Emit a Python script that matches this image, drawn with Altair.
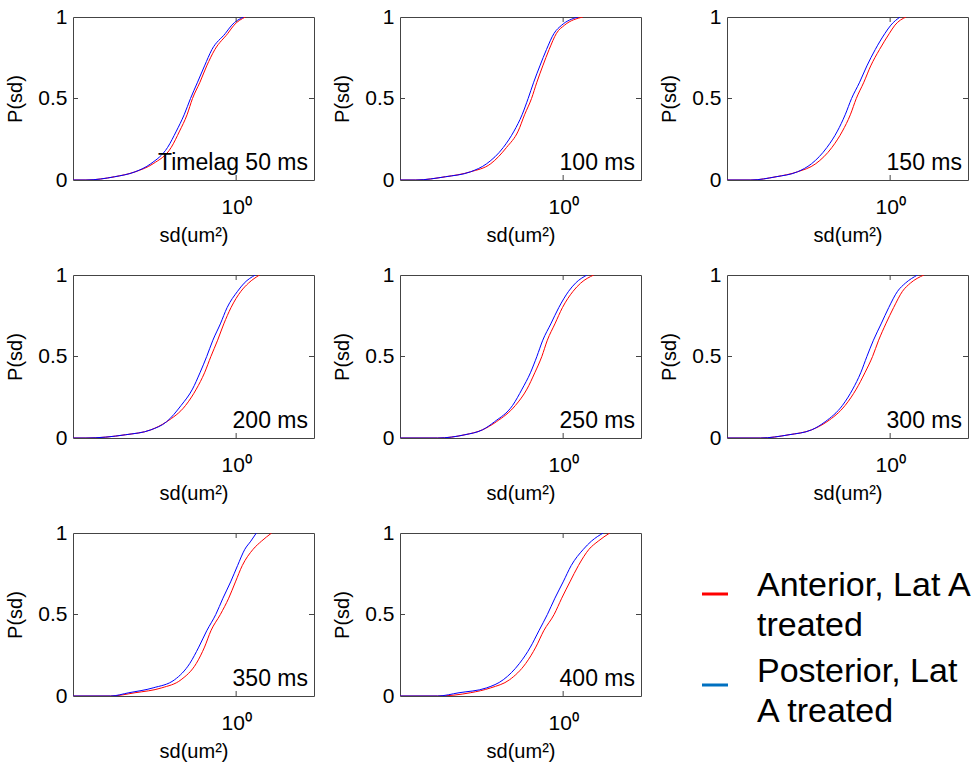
import altair as alt
import pandas as pd

# ---------------- data ----------------
panel_labels = ["Timelag 50 ms", "100 ms", "150 ms", "200 ms",
                "250 ms", "300 ms", "350 ms", "400 ms"]
series_names = ["Anterior, Lat A treated", "Posterior, Lat A treated"]
legend_lines = ["Anterior, Lat A\ntreated", "Posterior, Lat\nA treated"]
curve_colors = ["#ff0000", "#0000ff"]
legend_colors = ["#ff0000", "#0070c0"]

# cumulative probability levels at which the curves were read
p_levels = [0.0, 0.0, 0.02, 0.05, 0.1, 0.2, 0.3, 0.4, 0.5, 0.6, 0.7, 0.8, 0.9, 0.95, 1.0]

# sd (um^2) values for each level: anterior (red) and posterior (blue)
anterior = [
    [0.09, 0.12, 0.18, 0.24, 0.31, 0.40, 0.45, 0.50, 0.54, 0.60, 0.66, 0.74, 0.89, 0.97, 1.14],
    [0.09, 0.125, 0.19, 0.27, 0.36, 0.45, 0.53, 0.58, 0.64, 0.69, 0.75, 0.82, 0.91, 1.02, 1.32],
    [0.09, 0.14, 0.20, 0.27, 0.35, 0.44, 0.51, 0.57, 0.62, 0.69, 0.76, 0.86, 0.99, 1.07, 1.25],
    [0.09, 0.12, 0.21, 0.30, 0.375, 0.49, 0.57, 0.64, 0.70, 0.77, 0.84, 0.93, 1.07, 1.19, 1.39],
    [0.09, 0.17, 0.25, 0.32, 0.39, 0.51, 0.60, 0.67, 0.74, 0.80, 0.89, 0.99, 1.15, 1.28, 1.54],
    [0.09, 0.16, 0.24, 0.33, 0.41, 0.53, 0.62, 0.70, 0.78, 0.85, 0.94, 1.05, 1.19, 1.33, 1.61],
    [0.09, 0.17, 0.24, 0.35, 0.46, 0.57, 0.64, 0.70, 0.80, 0.90, 0.99, 1.09, 1.27, 1.43, 1.65],
    [0.09, 0.17, 0.27, 0.36, 0.47, 0.59, 0.68, 0.76, 0.88, 0.98, 1.10, 1.24, 1.44, 1.64, 1.93],
]
posterior = [
    [0.09, 0.12, 0.18, 0.24, 0.30, 0.38, 0.43, 0.48, 0.525, 0.58, 0.64, 0.71, 0.86, 0.94, 1.11],
    [0.09, 0.125, 0.19, 0.27, 0.34, 0.43, 0.50, 0.56, 0.61, 0.66, 0.72, 0.79, 0.88, 0.98, 1.23],
    [0.09, 0.14, 0.20, 0.27, 0.33, 0.41, 0.475, 0.53, 0.58, 0.65, 0.72, 0.81, 0.93, 1.01, 1.15],
    [0.09, 0.12, 0.21, 0.30, 0.375, 0.46, 0.54, 0.60, 0.66, 0.72, 0.80, 0.88, 1.02, 1.12, 1.31],
    [0.09, 0.17, 0.25, 0.32, 0.38, 0.49, 0.56, 0.63, 0.69, 0.75, 0.84, 0.94, 1.08, 1.19, 1.40],
    [0.09, 0.16, 0.24, 0.33, 0.40, 0.51, 0.59, 0.66, 0.72, 0.79, 0.88, 0.98, 1.11, 1.24, 1.47],
    [0.09, 0.17, 0.22, 0.31, 0.42, 0.52, 0.59, 0.66, 0.75, 0.83, 0.925, 1.02, 1.13, 1.23, 1.33],
    [0.09, 0.17, 0.23, 0.34, 0.43, 0.54, 0.63, 0.71, 0.80, 0.89, 1.00, 1.12, 1.33, 1.49, 1.76],
]

x_domain = [0.1, 3]
x_tick_values = [1]
y_tick_values = [0, 0.5, 1]

# ---------------- style ----------------
FONT = "Liberation Sans"
W, H = 241, 163
FRAME = "#444444"


def panel_frame(i):
    rows = []
    for s, arr in zip(series_names, [anterior[i], posterior[i]]):
        for k, (x, p) in enumerate(zip(arr, p_levels)):
            rows.append({"series": s, "sd": x, "p": p, "idx": k})
    return pd.DataFrame(rows)


def panel(i, with_legend=False):
    df = panel_frame(i)
    lines = alt.Chart(df).mark_line(clip=True, strokeWidth=1, interpolate="monotone").encode(
        x=alt.X("sd:Q",
                scale=alt.Scale(type="log", domain=x_domain, nice=False),
                axis=alt.Axis(values=x_tick_values, labelExpr="'10⁰'", title="sd(um²)")),
        y=alt.Y("p:Q",
                scale=alt.Scale(domain=[0, 1], nice=False),
                axis=alt.Axis(values=y_tick_values, format="~g", title="P(sd)")),
        color=alt.Color("series:N", scale=alt.Scale(domain=series_names, range=curve_colors), legend=None),
        order=alt.Order("idx:Q"),
    )
    one = pd.DataFrame({"k": [0]})
    ticks = [
        alt.Chart(one).mark_rule(color=FRAME, strokeWidth=1).encode(
            y=alt.datum(0.5), x=alt.value(0), x2=alt.value(5)),
        alt.Chart(one).mark_rule(color=FRAME, strokeWidth=1).encode(
            y=alt.datum(0.5), x=alt.value(W - 5), x2=alt.value(W)),
        alt.Chart(one).mark_rule(color=FRAME, strokeWidth=1).encode(
            x=alt.datum(1), y=alt.value(H - 5), y2=alt.value(H)),
        alt.Chart(one).mark_rule(color=FRAME, strokeWidth=1).encode(
            x=alt.datum(1), y=alt.value(0), y2=alt.value(5)),
    ]
    label = alt.Chart(pd.DataFrame({"label": [panel_labels[i]]})).mark_text(
        align="right", baseline="alphabetic", fontSize=23, font=FONT, color="black"
    ).encode(text="label:N", x=alt.value(W - 6), y=alt.value(H - 10))
    layers = [lines] + ticks + [label]
    if with_legend:
        line_y = [61, 152]
        text_y = [63, 149]
        for j in range(len(series_names)):
            ldf = pd.DataFrame({"series": [series_names[j]], "label": [legend_lines[j]]})
            layers.append(alt.Chart(ldf).mark_rule(color=legend_colors[j], strokeWidth=3).encode(
                x=alt.value(302), x2=alt.value(328), y=alt.value(line_y[j])))
            layers.append(alt.Chart(ldf).mark_text(
                align="left", baseline="alphabetic", fontSize=34, font=FONT, color="black",
                lineBreak="\n", lineHeight=40
            ).encode(text="label:N", x=alt.value(357), y=alt.value(text_y[j])))
    return alt.layer(*layers).properties(width=W, height=H)


rows = [
    alt.hconcat(panel(0), panel(1), panel(2), spacing=17),
    alt.hconcat(panel(3), panel(4), panel(5), spacing=17),
    alt.hconcat(panel(6), panel(7, with_legend=True), spacing=17),
]

chart = alt.vconcat(*rows, spacing=17).configure_view(
    stroke=FRAME, strokeWidth=1
).configure_axis(
    domain=False, ticks=False, grid=False,
    labelFont=FONT, labelFontSize=21, labelColor="black",
    titleFont=FONT, titleFontSize=20, titleFontWeight="normal", titleColor="black",
).configure_axisY(
    labelPadding=6, titlePadding=12
).configure_axisX(
    labelPadding=16, titlePadding=8
).properties(background="white", padding=5)

chart.save("out.html", embed_options={"renderer": "svg", "actions": False})
